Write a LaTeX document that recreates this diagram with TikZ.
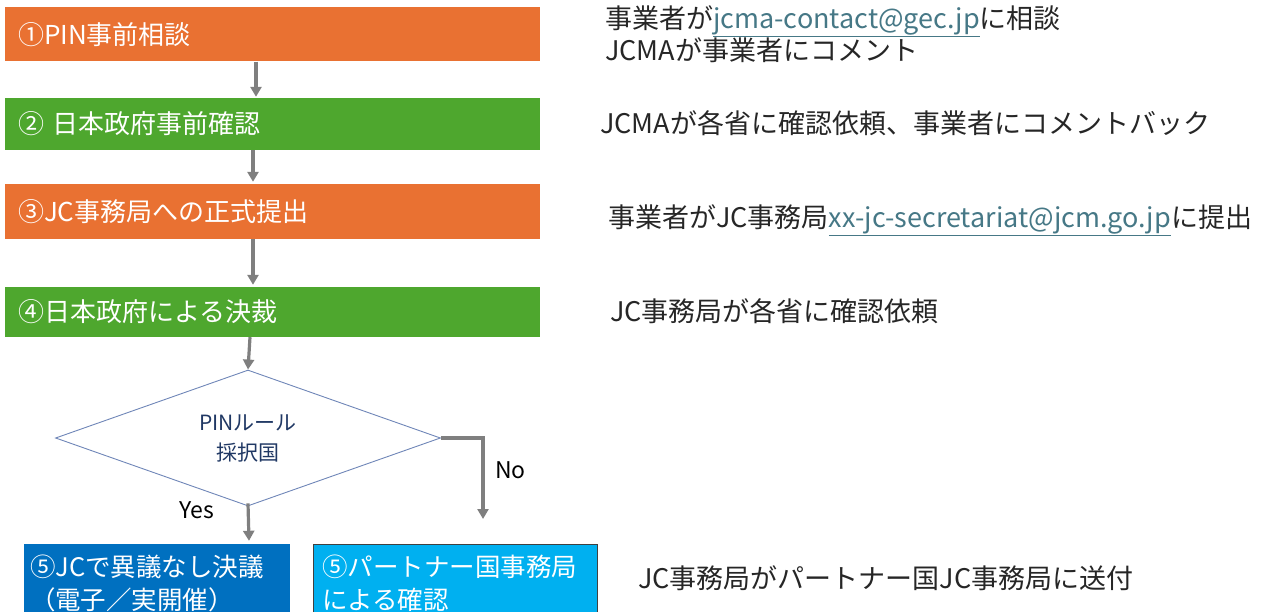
\documentclass[tikz,border=0pt]{standalone}
\usepackage{fontspec}
\setmainfont{Noto Sans CJK JP}
\usetikzlibrary{shapes.geometric,arrows.meta}
\definecolor{orng}{HTML}{E97132}
\definecolor{grn}{HTML}{4EA72E}
\definecolor{dblue}{HTML}{0070C0}
\definecolor{lblue}{HTML}{00B0F0}
\definecolor{arrgray}{HTML}{7F7F7F}
\definecolor{lnkc}{HTML}{467886}
\definecolor{navy}{HTML}{203864}
\definecolor{diaedge}{HTML}{6F86B8}
\definecolor{txtc}{HTML}{262626}
\newcommand\lnk[1]{\textcolor{lnkc}{\underline{#1}}}
\begin{document}
\begin{tikzpicture}[x=1pt,y=-1pt,
  stepbox/.style={rectangle, draw=none, text=white, inner xsep=13pt, inner ysep=0pt,
    text width=509pt, align=left, font=\fontsize{26}{30}\selectfont},
  lastbox/.style={rectangle, text=white, inner ysep=0pt, align=left,
    font=\fontsize{25.5}{33}\selectfont},
  note/.style={anchor=west, inner sep=0pt, text=txtc, align=left, font=\fontsize{27}{32}\selectfont},
  arr/.style={draw=arrgray, line width=3.2pt, -{Triangle[length=10pt,width=11pt]}},
  lbl/.style={inner sep=0pt, text=black, font=\fontsize{23}{26}\selectfont}]
\useasboundingbox (0,0) rectangle (1269,612);

% step boxes
\node[stepbox, fill=orng, minimum height=54pt] (b1) at (272.5,34.5) {①PIN事前相談};
\node[stepbox, fill=grn, minimum height=52pt] (b2) at (272.5,124) {② 日本政府事前確認};
\node[stepbox, fill=orng, minimum height=55pt] (b3) at (272.5,211.5) {③JC事務局への正式提出};
\node[stepbox, fill=grn, minimum height=50pt] (b4) at (272.5,312) {④日本政府による決裁};

% decision
\node[diamond, draw=diaedge, line width=0.9pt, fill=white, minimum width=385pt, minimum height=136pt,
  aspect=2.8, inner sep=0pt, text=navy, align=center, font=\fontsize{21}{30}\selectfont]
  (dia) at (248,438) {PINルール\\採択国};

% final boxes
\node[lastbox, fill=dblue, draw=dblue, text width=253pt, inner xsep=6pt, minimum height=78pt] (b5a) at (156.5,583)
  {⑤JCで異議なし決議\\（電子／実開催）};
\node[lastbox, fill=lblue, draw=black!75, line width=0.8pt, text width=266pt, inner xsep=9pt, minimum height=78pt] (b5b) at (455,583)
  {⑤パートナー国事務局\\による確認};

% connectors
\draw[arr] ([xshift=-16.5pt]b1.south) -- ([xshift=-16.5pt,yshift=1pt]b2.north);
\draw[arr] ([xshift=-19.5pt]b2.south) -- ([xshift=-19.5pt,yshift=2pt]b3.north);
\draw[arr] ([xshift=-19.5pt]b3.south) -- ([xshift=-19.5pt,yshift=2pt]b4.north);
\draw[arr] ([xshift=-22.5pt]b4.south) -- (dia.north);
\draw[arr] ([yshift=3pt]dia.south) -- ([xshift=92.5pt,yshift=3pt]b5a.north);
\coordinate (noend) at (483,519);
\draw[arr] (dia.east) -| (noend);
\node[lbl, anchor=west] (yes) at (179,510) {Yes};
\node[lbl, anchor=west] (no) at (495,470) {No};

% notes
\node[note] (n1) at (605,34) {事業者が\lnk{jcma-contact@gec.jp}に相談\\JCMAが事業者にコメント};
\node[note] (n2) at (600,123) {JCMAが各省に確認依頼、事業者にコメントバック};
\node[note] (n3) at (608,220) {事業者がJC事務局\lnk{xx-jc-secretariat@jcm.go.jp}に提出};
\node[note] (n4) at (610,311) {JC事務局が各省に確認依頼};
\node[note] (n5) at (638,578) {JC事務局がパートナー国JC事務局に送付};
\end{tikzpicture}
\end{document}
